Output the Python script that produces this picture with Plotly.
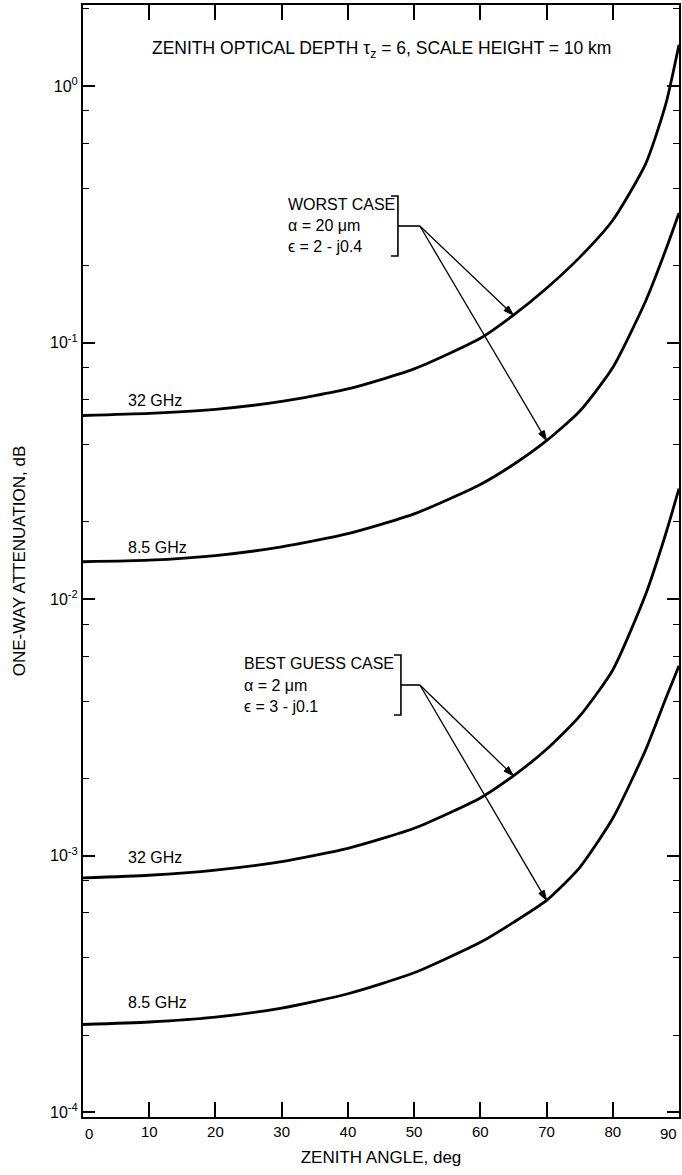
import numpy as np
import plotly.graph_objects as go

# ---- data ----
zenith_angle = [0, 10, 20, 30, 40, 50, 60, 65, 70, 75, 80, 85, 88, 90]
worst_32 = [0.052, 0.053, 0.055, 0.059, 0.066, 0.079, 0.104, 0.128, 0.163, 0.215, 0.30, 0.50, 0.85, 1.45]
worst_85 = [0.014, 0.0142, 0.0148, 0.0160, 0.0180, 0.0215, 0.028, 0.0335, 0.0415, 0.054, 0.08, 0.146, 0.23, 0.32]
best_32 = [0.00082, 0.00084, 0.00088, 0.00095, 0.00107, 0.00128, 0.00168, 0.00205, 0.0026, 0.0035, 0.0053, 0.0105, 0.018, 0.027]
best_85 = [0.00022, 0.000225, 0.000235, 0.000255, 0.00029, 0.00035, 0.00046, 0.00055, 0.00067, 0.00090, 0.0014, 0.0026, 0.0041, 0.0055]

x_ticks = [0, 10, 20, 30, 40, 50, 60, 70, 80, 90]
x_ticktext = ["", "10", "20", "30", "40", "50", "60", "70", "80", ""]
y_ticks = [1e-4, 1e-3, 1e-2, 1e-1, 1]
y_ticktext = ["10<sup>-4</sup>", "10<sup>-3</sup>", "10<sup>-2</sup>", "10<sup>-1</sup>", "10<sup>0</sup>"]
y_minor = [m * 10.0 ** e for e in range(-4, 1) for m in (2, 4, 6, 8)]

W, H = 682, 1175
ML, MR, MT, MB = 83, 1, 5, 58
FONT = "Liberation Sans, Arial, sans-serif"
XMIN, XMAX = 0, 90
YMIN, YMAX = -4.018, 0.316
PW, PH = W - ML - MR, H - MT - MB


def px(xp):
    return (xp - ML) / PW


def py(yp):
    return (H - MB - yp) / PH


def data_to_pixel(angle, value):
    xp = ML + (angle - XMIN) / (XMAX - XMIN) * PW
    yp = MT + (YMAX - np.log10(value)) / (YMAX - YMIN) * PH
    return xp, yp


def label(text, xp, yp, size, xanchor="left"):
    return dict(text=text, xref="paper", yref="paper", x=px(xp), y=py(yp),
                xanchor=xanchor, yanchor="middle", showarrow=False,
                font=dict(size=size, family=FONT, color="black"))


def path_of(points, close=False):
    s = " ".join(("M" if k == 0 else "L") + " {:.5f} {:.5f}".format(px(a), py(b))
                 for k, (a, b) in enumerate(points))
    return s + (" Z" if close else "")


fig = go.Figure()
for ys in (worst_32, worst_85, best_32, best_85):
    fig.add_trace(go.Scatter(x=zenith_angle, y=ys, mode="lines",
                             line=dict(color="black", width=2.8, shape="spline", smoothing=0.6),
                             showlegend=False, hoverinfo="skip"))

annotations = [label("ZENITH OPTICAL DEPTH τ<sub>z</sub> = 6, SCALE HEIGHT = 10 km", 383, 50, 17.5, "center")]
for t, yp in (("32 GHz", 400), ("8.5 GHz", 547), ("32 GHz", 857), ("8.5 GHz", 1002)):
    annotations.append(label(t, 126, yp, 16))
for lines, x0, ys in ((("WORST CASE", "α = 20 μm", "ϵ = 2 - j0.4"), 287, (204, 226, 247)),
                      (("BEST GUESS CASE", "α = 2 μm", "ϵ = 3 - j0.1"), 243, (663, 685, 706))):
    for t, yp in zip(lines, ys):
        annotations.append(label(t, x0, yp, 16))
# end tick labels of x axis, pulled inside like the reference
annotations.append(label("0", 83, 1133, 15))
annotations.append(label("90", 681, 1133, 15, "right"))

shapes = []
for xv, ytop, ymid, ybot in ((399, 196, 226, 256), (402, 655, 685, 715)):
    shapes.append(dict(type="path", xref="paper", yref="paper",
                       path=path_of([(xv - 7, ytop), (xv, ytop), (xv, ybot), (xv - 7, ybot)]),
                       line=dict(color="black", width=1.6)))
    shapes.append(dict(type="path", xref="paper", yref="paper",
                       path=path_of([(xv, ymid), (421, ymid)]),
                       line=dict(color="black", width=1.6)))

# arrows from bracket to curves
for series, angle, (tx, ty) in ((worst_32, 65, (421, 226)), (worst_85, 70, (421, 226)),
                                (best_32, 65, (421, 685)), (best_85, 70, (421, 685))):
    i = zenith_angle.index(angle)
    hx, hy = data_to_pixel(angle, series[i])
    dx, dy = hx - tx, hy - ty
    n = np.hypot(dx, dy)
    ux, uy = dx / n, dy / n
    L, Wd = 10, 3.2
    bx, by = hx - ux * L, hy - uy * L
    shapes.append(dict(type="path", xref="paper", yref="paper", path=path_of([(tx, ty), (bx, by)]),
                       line=dict(color="black", width=1.3)))
    p1 = (bx - uy * Wd, by + ux * Wd)
    p2 = (bx + uy * Wd, by - ux * Wd)
    shapes.append(dict(type="path", xref="paper", yref="paper", path=path_of([(hx, hy), p1, p2], close=True),
                       fillcolor="black", line=dict(color="black", width=1)))

fig.update_layout(
    width=W, height=H, margin=dict(l=ML, r=MR, t=MT, b=MB),
    paper_bgcolor="white", plot_bgcolor="white",
    font=dict(family=FONT, color="black", size=14),
    annotations=annotations, shapes=shapes,
    xaxis=dict(range=[XMIN, XMAX], tickvals=x_ticks, ticktext=x_ticktext, ticks="inside", ticklen=15,
               tickwidth=1.5, tickcolor="black", showline=True, linecolor="black", linewidth=2,
               mirror="ticks", showgrid=False, zeroline=False, tickfont=dict(size=15),
               title=dict(text="ZENITH ANGLE, deg", font=dict(size=17), standoff=12)),
    yaxis=dict(type="log", range=[YMIN, YMAX], tickvals=y_ticks, ticktext=y_ticktext,
               ticks="inside", ticklen=12, tickwidth=1.5, tickcolor="black",
               showline=True, linecolor="black", linewidth=2, mirror="ticks",
               showgrid=False, zeroline=False, tickfont=dict(size=16),
               minor=dict(tickvals=y_minor, ticks="inside", ticklen=6, tickwidth=1.3,
                          tickcolor="black", showgrid=False),
               title=dict(text="ONE-WAY ATTENUATION, dB", font=dict(size=17), standoff=20)),
)

fig.write_html("out.html", config={"displayModeBar": False},
               post_script="document.body.style.margin='0';")
